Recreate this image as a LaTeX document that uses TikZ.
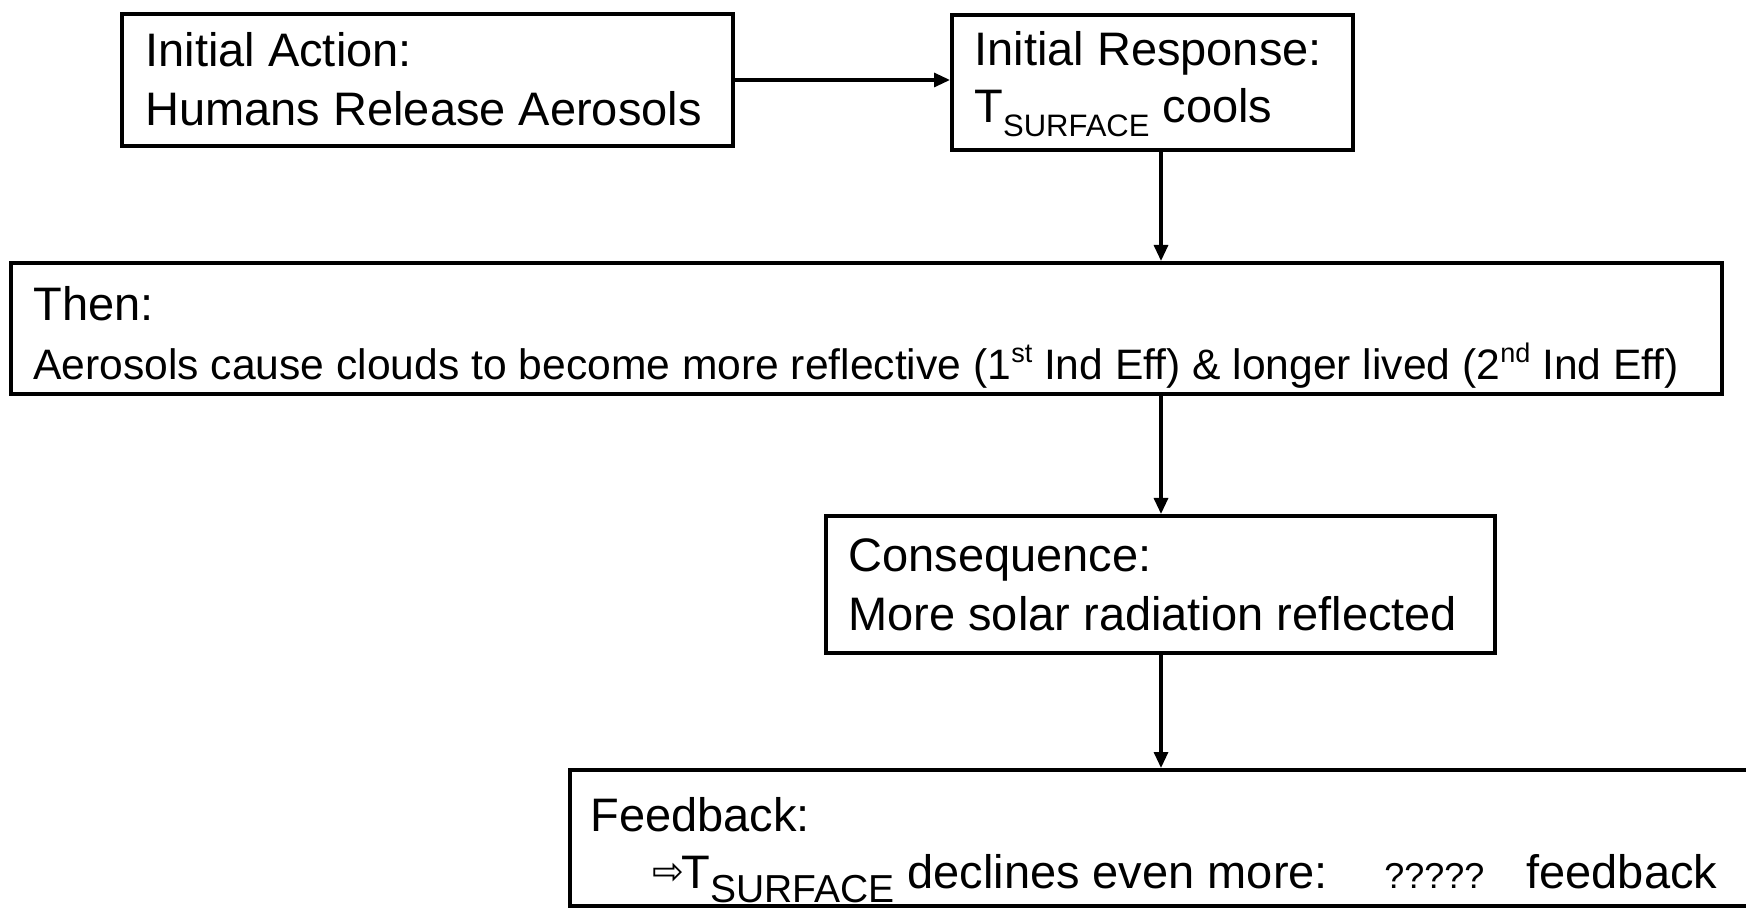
\documentclass[tikz,border=0pt]{standalone}
\usepackage{fontspec}
\setmainfont{Liberation Sans}
\newfontfamily\djv{DejaVu Sans}
\usetikzlibrary{arrows.meta,fit}
\newcommand{\subS}[1]{\raisebox{-0.28em}{\fontsize{15.5}{16}\selectfont #1}}
\newcommand{\subL}[1]{\raisebox{-0.3em}{\fontsize{19.5}{20}\selectfont #1}}
\newcommand{\supS}[1]{\raisebox{0.42em}{\fontsize{13.5}{14}\selectfont #1}}
\tikzset{
  box/.style={draw, line width=2pt, inner sep=0pt},
  txt/.style={anchor=base west, inner sep=0pt, font=\fontsize{23.5}{28}\selectfont},
  smalltxt/.style={anchor=base west, inner sep=0pt, font=\fontsize{21.3}{24}\selectfont},
  arr/.style={-{Triangle[length=8pt,width=7pt]}, line width=1.6pt},
}
\begin{document}
\begin{tikzpicture}[x=0.5pt,y=-0.5pt]
\useasboundingbox (0,0) rectangle (1746,908);
\clip (0,0) rectangle (1746,908);
\fill[white] (0,0) rectangle (1746,908);
% boxes
\node[box, fit={(122,14) (733,146)}] (b1) {};
\node[box, fit={(952,15) (1353,150)}] (b2) {};
\node[box, fit={(11,263) (1722,394)}] (b3) {};
\node[box, fit={(826,516) (1495,653)}] (b4) {};
\node[box, fit={(570,770) (1765,906)}] (b5) {};
% texts
\node[txt] (t1a) at (145,67) {Initial Action:};
\node[txt] (t1b) at (145,126) {Humans Release Aerosols};
\node[txt] (t2a) at (974,66) {Initial Response:};
\node[txt] (t2b) at (974,123) {T\subS{SURFACE} cools};
\node[txt] (t3a) at (33,321) {Then:};
\node[smalltxt] (t3b) at (33,380) {Aerosols cause clouds to become more reflective (1\supS{st} Ind Eff) \& longer lived (2\supS{nd} Ind Eff)};
\node[txt] (t4a) at (848,572) {Consequence:};
\node[txt] (t4b) at (848,631) {More solar radiation reflected};
\node[txt] (t5a) at (590,831) {Feedback:};
\node[anchor=base west, inner sep=0pt, font=\djv\fontsize{19}{20}\selectfont] (t5arr) at (652,884) {⇨};
\node[txt] (t5b) at (681,888) {T\subL{SURFACE} declines even more:};
\node[anchor=base west, inner sep=0pt, font=\fontsize{18}{20}\selectfont] (t5q) at (1384,888) {?????};
\node[txt] (t5c) at (1526,888) {feedback};
% connectors
\coordinate (ax) at (1161,0);
\draw[arr] (b1.east) -- (b2.west |- b1.east);
\draw[arr] (b2.south -| ax) -- (b3.north -| ax);
\draw[arr] (b3.south -| ax) -- (b4.north -| ax);
\draw[arr] (b4.south -| ax) -- (b5.north -| ax);
\end{tikzpicture}
\end{document}
